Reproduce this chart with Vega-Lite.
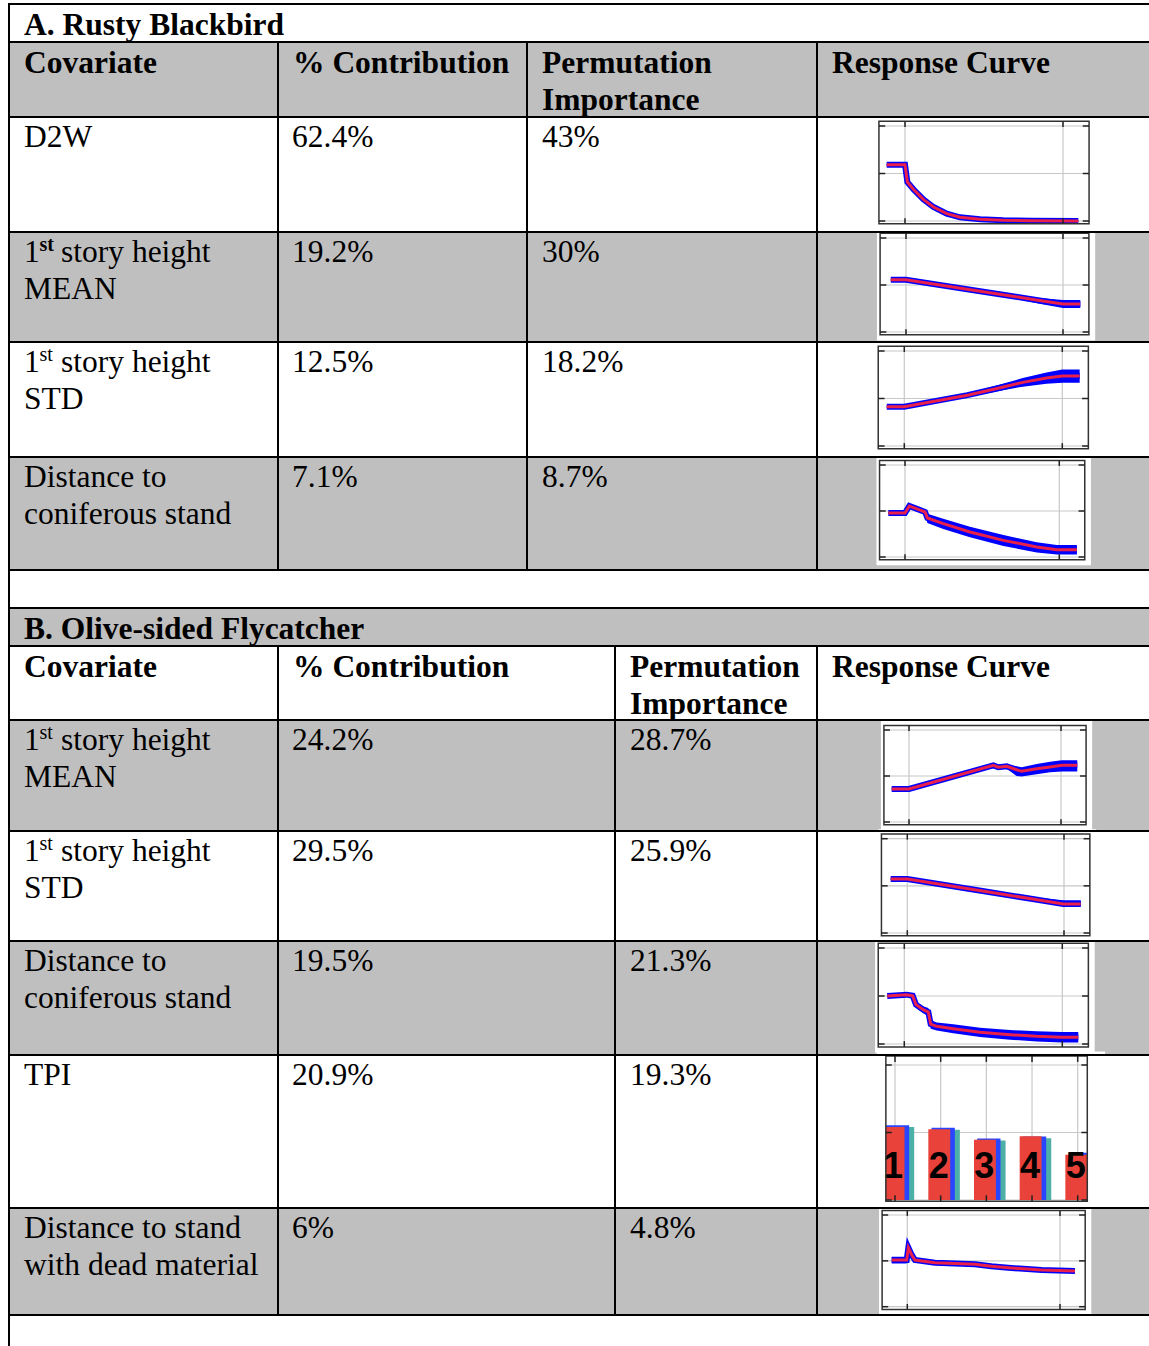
{
"$schema": "https://vega.github.io/schema/vega-lite/v6.json",
"width": 1149, "height": 1346, "padding": 0, "autosize": {"type": "none"},
"background": "white",
"config": {"view": {"stroke": null}},
"datasets": {
"fills": [
{"x0":9,"x1":1149,"y0":42,"y1":117},
{"x0":9,"x1":1149,"y0":232,"y1":342},
{"x0":9,"x1":1149,"y0":457,"y1":570},
{"x0":9,"x1":1149,"y0":608,"y1":646},
{"x0":9,"x1":1149,"y0":720,"y1":831},
{"x0":9,"x1":1149,"y0":941,"y1":1055},
{"x0":9,"x1":1149,"y0":1208,"y1":1315}
],
"borders": [
{"x0":9,"x1":1149,"y0":4,"y1":4},
{"x0":9,"x1":1149,"y0":42,"y1":42},
{"x0":9,"x1":1149,"y0":117,"y1":117},
{"x0":9,"x1":1149,"y0":232,"y1":232},
{"x0":9,"x1":1149,"y0":342,"y1":342},
{"x0":9,"x1":1149,"y0":457,"y1":457},
{"x0":9,"x1":1149,"y0":570,"y1":570},
{"x0":9,"x1":1149,"y0":608,"y1":608},
{"x0":9,"x1":1149,"y0":646,"y1":646},
{"x0":9,"x1":1149,"y0":720,"y1":720},
{"x0":9,"x1":1149,"y0":831,"y1":831},
{"x0":9,"x1":1149,"y0":941,"y1":941},
{"x0":9,"x1":1149,"y0":1055,"y1":1055},
{"x0":9,"x1":1149,"y0":1208,"y1":1208},
{"x0":9,"x1":1149,"y0":1315,"y1":1315},
{"x0":9,"x1":9,"y0":3,"y1":1346},
{"x0":278,"x1":278,"y0":42,"y1":570},
{"x0":527,"x1":527,"y0":42,"y1":570},
{"x0":817,"x1":817,"y0":42,"y1":570},
{"x0":278,"x1":278,"y0":646,"y1":1315},
{"x0":615,"x1":615,"y0":646,"y1":1315},
{"x0":817,"x1":817,"y0":646,"y1":1315}
],
"texts": [
{"k":"b","x":24,"y":35,"t":"A. Rusty Blackbird"},
{"k":"b","x":24,"y":73,"t":"Covariate"},
{"k":"b","x":293,"y":73,"t":"% Contribution"},
{"k":"b","x":542,"y":73,"t":"Permutation"},
{"k":"b","x":542,"y":110,"t":"Importance"},
{"k":"b","x":832,"y":73,"t":"Response Curve"},
{"k":"r","x":24,"y":147,"t":"D2W"},
{"k":"r","x":292,"y":147,"t":"62.4%"},
{"k":"r","x":542,"y":147,"t":"43%"},
{"k":"r","x":24,"y":262,"t":"1"},
{"k":"sb","x":39.5,"y":251,"t":"st"},
{"k":"r","x":61,"y":262,"t":"story height"},
{"k":"r","x":24,"y":299,"t":"MEAN"},
{"k":"r","x":292,"y":262,"t":"19.2%"},
{"k":"r","x":542,"y":262,"t":"30%"},
{"k":"r","x":24,"y":372,"t":"1"},
{"k":"s","x":39.5,"y":361,"t":"st"},
{"k":"r","x":61,"y":372,"t":"story height"},
{"k":"r","x":24,"y":409,"t":"STD"},
{"k":"r","x":292,"y":372,"t":"12.5%"},
{"k":"r","x":542,"y":372,"t":"18.2%"},
{"k":"r","x":24,"y":487,"t":"Distance to"},
{"k":"r","x":24,"y":524,"t":"coniferous stand"},
{"k":"r","x":292,"y":487,"t":"7.1%"},
{"k":"r","x":542,"y":487,"t":"8.7%"},
{"k":"b","x":24,"y":639,"t":"B. Olive-sided Flycatcher"},
{"k":"b","x":24,"y":677,"t":"Covariate"},
{"k":"b","x":293,"y":677,"t":"% Contribution"},
{"k":"b","x":630,"y":677,"t":"Permutation"},
{"k":"b","x":630,"y":714,"t":"Importance"},
{"k":"b","x":832,"y":677,"t":"Response Curve"},
{"k":"r","x":24,"y":750,"t":"1"},
{"k":"s","x":39.5,"y":739,"t":"st"},
{"k":"r","x":61,"y":750,"t":"story height"},
{"k":"r","x":24,"y":787,"t":"MEAN"},
{"k":"r","x":292,"y":750,"t":"24.2%"},
{"k":"r","x":630,"y":750,"t":"28.7%"},
{"k":"r","x":24,"y":861,"t":"1"},
{"k":"s","x":39.5,"y":850,"t":"st"},
{"k":"r","x":61,"y":861,"t":"story height"},
{"k":"r","x":24,"y":898,"t":"STD"},
{"k":"r","x":292,"y":861,"t":"29.5%"},
{"k":"r","x":630,"y":861,"t":"25.9%"},
{"k":"r","x":24,"y":971,"t":"Distance to"},
{"k":"r","x":24,"y":1008,"t":"coniferous stand"},
{"k":"r","x":292,"y":971,"t":"19.5%"},
{"k":"r","x":630,"y":971,"t":"21.3%"},
{"k":"r","x":24,"y":1085,"t":"TPI"},
{"k":"r","x":292,"y":1085,"t":"20.9%"},
{"k":"r","x":630,"y":1085,"t":"19.3%"},
{"k":"r","x":24,"y":1238,"t":"Distance to stand"},
{"k":"r","x":24,"y":1275,"t":"with dead material"},
{"k":"r","x":292,"y":1238,"t":"6%"},
{"k":"r","x":630,"y":1238,"t":"4.8%"}
],
"gridC": [
{"x0":0,"x1":0,"y0":-0.03,"y1":1.05},
{"x0":100,"x1":100,"y0":-0.03,"y1":1.05},
{"x0":-16.5,"x1":116.5,"y0":0,"y1":0},
{"x0":-16.5,"x1":116.5,"y0":0.5,"y1":0.5},
{"x0":-16.5,"x1":116.5,"y0":1,"y1":1}
],
"tickC": [
{"x0":-16.5,"x1":-12.5,"y0":0,"y1":0},
{"x0":-16.5,"x1":-12.5,"y0":0.5,"y1":0.5},
{"x0":-16.5,"x1":-12.5,"y0":1,"y1":1},
{"x0":112.5,"x1":116.5,"y0":0,"y1":0},
{"x0":112.5,"x1":116.5,"y0":0.5,"y1":0.5},
{"x0":112.5,"x1":116.5,"y0":1,"y1":1},
{"x0":0,"x1":0,"y0":1.05,"y1":0.99},
{"x0":100,"x1":100,"y0":1.05,"y1":0.99},
{"x0":0,"x1":0,"y0":-0.03,"y1":0.03},
{"x0":100,"x1":100,"y0":-0.03,"y1":0.03}
],
"gridT": [
{"x0":1,"x1":1,"y0":-0.01,"y1":1.067},
{"x0":2,"x1":2,"y0":-0.01,"y1":1.067},
{"x0":3,"x1":3,"y0":-0.01,"y1":1.067},
{"x0":4,"x1":4,"y0":-0.01,"y1":1.067},
{"x0":5,"x1":5,"y0":-0.01,"y1":1.067},
{"x0":0.8,"x1":5.21,"y0":0,"y1":0},
{"x0":0.8,"x1":5.21,"y0":0.5,"y1":0.5},
{"x0":0.8,"x1":5.21,"y0":1,"y1":1}
],
"tickT": [
{"x0":0.8,"x1":0.93,"y0":0,"y1":0},
{"x0":0.8,"x1":0.93,"y0":0.5,"y1":0.5},
{"x0":0.8,"x1":0.93,"y0":1,"y1":1},
{"x0":5.08,"x1":5.21,"y0":0,"y1":0},
{"x0":5.08,"x1":5.21,"y0":0.5,"y1":0.5},
{"x0":5.08,"x1":5.21,"y0":1,"y1":1},
{"x0":1,"x1":1,"y0":1.067,"y1":1.023},
{"x0":2,"x1":2,"y0":1.067,"y1":1.023},
{"x0":3,"x1":3,"y0":1.067,"y1":1.023},
{"x0":4,"x1":4,"y0":1.067,"y1":1.023},
{"x0":5,"x1":5,"y0":1.067,"y1":1.023},
{"x0":1,"x1":1,"y0":-0.01,"y1":0.035},
{"x0":2,"x1":2,"y0":-0.01,"y1":0.035},
{"x0":3,"x1":3,"y0":-0.01,"y1":0.035},
{"x0":4,"x1":4,"y0":-0.01,"y1":0.035},
{"x0":5,"x1":5,"y0":-0.01,"y1":0.035}
],
"tpi": [
{"cat":1,"red":0.54,"blue":0.553,"teal":0.54},
{"cat":2,"red":0.524,"blue":0.536,"teal":0.52},
{"cat":3,"red":0.447,"blue":0.455,"teal":0.44},
{"cat":4,"red":0.472,"blue":0.47,"teal":0.457},
{"cat":5,"red":0.335,"blue":0.35,"teal":null}
],
"curves": [
{"chart":"c1","x":-11.6,"y":0.593,"lo":0.58,"hi":0.605},
{"chart":"c1","x":0,"y":0.593,"lo":0.58,"hi":0.605},
{"chart":"c1","x":1.5,"y":0.41,"lo":0.385,"hi":0.435},
{"chart":"c1","x":5.3,"y":0.334,"lo":0.305,"hi":0.36},
{"chart":"c1","x":11.6,"y":0.228,"lo":0.2,"hi":0.255},
{"chart":"c1","x":18,"y":0.147,"lo":0.12,"hi":0.175},
{"chart":"c1","x":26.4,"y":0.077,"lo":0.055,"hi":0.1},
{"chart":"c1","x":34.8,"y":0.039,"lo":0.025,"hi":0.055},
{"chart":"c1","x":47.5,"y":0.018,"lo":0.008,"hi":0.028},
{"chart":"c1","x":62.2,"y":0.007,"lo":0.0,"hi":0.014},
{"chart":"c1","x":80,"y":0.002,"lo":-0.004,"hi":0.008},
{"chart":"c1","x":109.7,"y":0.0,"lo":-0.005,"hi":0.005},
{"chart":"c2","x":-9.7,"y":0.556,"lo":0.546,"hi":0.566},
{"chart":"c2","x":0,"y":0.556,"lo":0.546,"hi":0.566},
{"chart":"c2","x":40,"y":0.453,"lo":0.441,"hi":0.465},
{"chart":"c2","x":70,"y":0.375,"lo":0.355,"hi":0.392},
{"chart":"c2","x":85,"y":0.336,"lo":0.3,"hi":0.362},
{"chart":"c2","x":100,"y":0.298,"lo":0.255,"hi":0.34},
{"chart":"c2","x":111,"y":0.298,"lo":0.255,"hi":0.34},
{"chart":"c3","x":-11.1,"y":0.414,"lo":0.4,"hi":0.428},
{"chart":"c3","x":0,"y":0.414,"lo":0.4,"hi":0.428},
{"chart":"c3","x":40,"y":0.535,"lo":0.515,"hi":0.555},
{"chart":"c3","x":60,"y":0.61,"lo":0.58,"hi":0.645},
{"chart":"c3","x":75,"y":0.67,"lo":0.625,"hi":0.715},
{"chart":"c3","x":90,"y":0.715,"lo":0.655,"hi":0.775},
{"chart":"c3","x":100,"y":0.737,"lo":0.665,"hi":0.805},
{"chart":"c3","x":111,"y":0.737,"lo":0.665,"hi":0.805},
{"chart":"c4","x":-10.8,"y":0.478,"lo":0.465,"hi":0.49},
{"chart":"c4","x":0,"y":0.478,"lo":0.465,"hi":0.49},
{"chart":"c4","x":2.8,"y":0.554,"lo":0.54,"hi":0.565},
{"chart":"c4","x":8.6,"y":0.518,"lo":0.5,"hi":0.535},
{"chart":"c4","x":13,"y":0.489,"lo":0.46,"hi":0.515},
{"chart":"c4","x":14.5,"y":0.424,"lo":0.37,"hi":0.47},
{"chart":"c4","x":24.8,"y":0.362,"lo":0.305,"hi":0.415},
{"chart":"c4","x":42.1,"y":0.272,"lo":0.215,"hi":0.33},
{"chart":"c4","x":63.8,"y":0.181,"lo":0.12,"hi":0.24},
{"chart":"c4","x":85.4,"y":0.109,"lo":0.05,"hi":0.16},
{"chart":"c4","x":98.4,"y":0.079,"lo":0.028,"hi":0.13},
{"chart":"c4","x":111.4,"y":0.079,"lo":0.028,"hi":0.13},
{"chart":"c5","x":-11.4,"y":0.359,"lo":0.35,"hi":0.37},
{"chart":"c5","x":0,"y":0.359,"lo":0.35,"hi":0.37},
{"chart":"c5","x":55.5,"y":0.616,"lo":0.605,"hi":0.627},
{"chart":"c5","x":58.8,"y":0.595,"lo":0.57,"hi":0.615},
{"chart":"c5","x":64.3,"y":0.605,"lo":0.58,"hi":0.625},
{"chart":"c5","x":70.8,"y":0.568,"lo":0.5,"hi":0.605},
{"chart":"c5","x":74.1,"y":0.551,"lo":0.495,"hi":0.595},
{"chart":"c5","x":84,"y":0.579,"lo":0.52,"hi":0.63},
{"chart":"c5","x":92.8,"y":0.598,"lo":0.54,"hi":0.655},
{"chart":"c5","x":100.5,"y":0.616,"lo":0.55,"hi":0.67},
{"chart":"c5","x":110.7,"y":0.616,"lo":0.55,"hi":0.67},
{"chart":"c6","x":-10.6,"y":0.573,"lo":0.563,"hi":0.583},
{"chart":"c6","x":0,"y":0.573,"lo":0.563,"hi":0.583},
{"chart":"c6","x":50,"y":0.44,"lo":0.43,"hi":0.452},
{"chart":"c6","x":80,"y":0.36,"lo":0.343,"hi":0.378},
{"chart":"c6","x":99.6,"y":0.308,"lo":0.283,"hi":0.347},
{"chart":"c6","x":110.7,"y":0.308,"lo":0.283,"hi":0.347},
{"chart":"c7","x":-10.8,"y":0.5,"lo":0.49,"hi":0.51},
{"chart":"c7","x":1.5,"y":0.514,"lo":0.5,"hi":0.525},
{"chart":"c7","x":5.3,"y":0.503,"lo":0.49,"hi":0.515},
{"chart":"c7","x":7.4,"y":0.41,"lo":0.38,"hi":0.44},
{"chart":"c7","x":12,"y":0.357,"lo":0.32,"hi":0.39},
{"chart":"c7","x":15.2,"y":0.333,"lo":0.29,"hi":0.375},
{"chart":"c7","x":16.7,"y":0.208,"lo":0.16,"hi":0.25},
{"chart":"c7","x":20.5,"y":0.184,"lo":0.14,"hi":0.225},
{"chart":"c7","x":31,"y":0.16,"lo":0.113,"hi":0.205},
{"chart":"c7","x":47.9,"y":0.122,"lo":0.073,"hi":0.17},
{"chart":"c7","x":66.9,"y":0.097,"lo":0.045,"hi":0.145},
{"chart":"c7","x":83.8,"y":0.08,"lo":0.025,"hi":0.132},
{"chart":"c7","x":99.6,"y":0.07,"lo":0.015,"hi":0.125},
{"chart":"c7","x":110.1,"y":0.07,"lo":0.015,"hi":0.125},
{"chart":"c9","x":-10.2,"y":0.509,"lo":0.47,"hi":0.545},
{"chart":"c9","x":-0.4,"y":0.509,"lo":0.47,"hi":0.545},
{"chart":"c9","x":0.7,"y":0.644,"lo":0.63,"hi":0.66},
{"chart":"c9","x":2.9,"y":0.564,"lo":0.55,"hi":0.58},
{"chart":"c9","x":5,"y":0.509,"lo":0.495,"hi":0.52},
{"chart":"c9","x":18.1,"y":0.48,"lo":0.47,"hi":0.49},
{"chart":"c9","x":44.3,"y":0.462,"lo":0.45,"hi":0.475},
{"chart":"c9","x":55,"y":0.44,"lo":0.42,"hi":0.455},
{"chart":"c9","x":66.1,"y":0.425,"lo":0.405,"hi":0.44},
{"chart":"c9","x":88,"y":0.4,"lo":0.38,"hi":0.415},
{"chart":"c9","x":109.8,"y":0.389,"lo":0.37,"hi":0.405}
]
},
"layer": [
{"data":{"name":"fills"},"mark":{"type":"rect","color":"#bfbfbf"},
 "encoding":{"x":{"field":"x0","type":"quantitative","scale":{"domain":[0,1149],"range":[0,1149],"nice":false,"zero":false},"axis":null},"x2":{"field":"x1"},
 "y":{"field":"y0","type":"quantitative","scale":{"domain":[0,1346],"range":[0,1346],"nice":false,"zero":false},"axis":null},"y2":{"field":"y1"}}},

{"layer":[
 {"data":{"values":[{}]},"mark":{"type":"rect","fill":"white"},"encoding":{"x":{"datum":-18.5,"type":"quantitative","scale":{"domain":[0,100],"range":[905,1063],"nice":false,"zero":false},"axis":null},"x2":{"datum":120.5},"y":{"datum":-0.09,"type":"quantitative","scale":{"domain":[0,1],"range":[221,126],"nice":false,"zero":false},"axis":null},"y2":{"datum":1.1}}},
 {"data":{"name":"gridC"},"mark":{"type":"rule","color":"#c8c8c8","strokeWidth":1.2},"encoding":{"x":{"field":"x0","type":"quantitative"},"x2":{"field":"x1"},"y":{"field":"y0","type":"quantitative"},"y2":{"field":"y1"}}},
 {"data":{"name":"curves"},"transform":[{"filter":"datum.chart=='c1'"}],"mark":{"type":"area","color":"#0000ff"},"encoding":{"x":{"field":"x","type":"quantitative"},"y":{"field":"lo","type":"quantitative"},"y2":{"field":"hi"}}},
 {"data":{"name":"curves"},"transform":[{"filter":"datum.chart=='c1'"}],"mark":{"type":"line","color":"#0000ff","strokeWidth":6},"encoding":{"x":{"field":"x","type":"quantitative"},"y":{"field":"y","type":"quantitative"}}},
 {"data":{"name":"curves"},"transform":[{"filter":"datum.chart=='c1'"}],"mark":{"type":"line","color":"#e8204a","strokeWidth":3},"encoding":{"x":{"field":"x","type":"quantitative"},"y":{"field":"y","type":"quantitative"}}},
 {"data":{"values":[{}]},"mark":{"type":"rect","fill":"transparent","stroke":"#333333","strokeWidth":1.5},"encoding":{"x":{"datum":-16.5,"type":"quantitative"},"x2":{"datum":116.5},"y":{"datum":-0.03,"type":"quantitative"},"y2":{"datum":1.05}}},
 {"data":{"name":"tickC"},"mark":{"type":"rule","color":"#222222","strokeWidth":1.5},"encoding":{"x":{"field":"x0","type":"quantitative"},"x2":{"field":"x1"},"y":{"field":"y0","type":"quantitative"},"y2":{"field":"y1"}}}
]},

{"layer":[
 {"data":{"values":[{}]},"mark":{"type":"rect","fill":"white"},"encoding":{"x":{"datum":-18.5,"type":"quantitative","scale":{"domain":[0,100],"range":[906,1063],"nice":false,"zero":false},"axis":null},"x2":{"datum":120.5},"y":{"datum":-0.09,"type":"quantitative","scale":{"domain":[0,1],"range":[332,238],"nice":false,"zero":false},"axis":null},"y2":{"datum":1.1}}},
 {"data":{"name":"gridC"},"mark":{"type":"rule","color":"#c8c8c8","strokeWidth":1.2},"encoding":{"x":{"field":"x0","type":"quantitative"},"x2":{"field":"x1"},"y":{"field":"y0","type":"quantitative"},"y2":{"field":"y1"}}},
 {"data":{"name":"curves"},"transform":[{"filter":"datum.chart=='c2'"}],"mark":{"type":"area","color":"#0000ff"},"encoding":{"x":{"field":"x","type":"quantitative"},"y":{"field":"lo","type":"quantitative"},"y2":{"field":"hi"}}},
 {"data":{"name":"curves"},"transform":[{"filter":"datum.chart=='c2'"}],"mark":{"type":"line","color":"#0000ff","strokeWidth":6},"encoding":{"x":{"field":"x","type":"quantitative"},"y":{"field":"y","type":"quantitative"}}},
 {"data":{"name":"curves"},"transform":[{"filter":"datum.chart=='c2'"}],"mark":{"type":"line","color":"#e8204a","strokeWidth":3},"encoding":{"x":{"field":"x","type":"quantitative"},"y":{"field":"y","type":"quantitative"}}},
 {"data":{"values":[{}]},"mark":{"type":"rect","fill":"transparent","stroke":"#333333","strokeWidth":1.5},"encoding":{"x":{"datum":-16.5,"type":"quantitative"},"x2":{"datum":116.5},"y":{"datum":-0.03,"type":"quantitative"},"y2":{"datum":1.05}}},
 {"data":{"name":"tickC"},"mark":{"type":"rule","color":"#222222","strokeWidth":1.5},"encoding":{"x":{"field":"x0","type":"quantitative"},"x2":{"field":"x1"},"y":{"field":"y0","type":"quantitative"},"y2":{"field":"y1"}}}
]},

{"layer":[
 {"data":{"values":[{}]},"mark":{"type":"rect","fill":"white"},"encoding":{"x":{"datum":-18.5,"type":"quantitative","scale":{"domain":[0,100],"range":[904.3,1062.3],"nice":false,"zero":false},"axis":null},"x2":{"datum":120.5},"y":{"datum":-0.09,"type":"quantitative","scale":{"domain":[0,1],"range":[446,351],"nice":false,"zero":false},"axis":null},"y2":{"datum":1.1}}},
 {"data":{"name":"gridC"},"mark":{"type":"rule","color":"#c8c8c8","strokeWidth":1.2},"encoding":{"x":{"field":"x0","type":"quantitative"},"x2":{"field":"x1"},"y":{"field":"y0","type":"quantitative"},"y2":{"field":"y1"}}},
 {"data":{"name":"curves"},"transform":[{"filter":"datum.chart=='c3'"}],"mark":{"type":"area","color":"#0000ff"},"encoding":{"x":{"field":"x","type":"quantitative"},"y":{"field":"lo","type":"quantitative"},"y2":{"field":"hi"}}},
 {"data":{"name":"curves"},"transform":[{"filter":"datum.chart=='c3'"}],"mark":{"type":"line","color":"#0000ff","strokeWidth":6},"encoding":{"x":{"field":"x","type":"quantitative"},"y":{"field":"y","type":"quantitative"}}},
 {"data":{"name":"curves"},"transform":[{"filter":"datum.chart=='c3'"}],"mark":{"type":"line","color":"#e8204a","strokeWidth":3},"encoding":{"x":{"field":"x","type":"quantitative"},"y":{"field":"y","type":"quantitative"}}},
 {"data":{"values":[{}]},"mark":{"type":"rect","fill":"transparent","stroke":"#333333","strokeWidth":1.5},"encoding":{"x":{"datum":-16.5,"type":"quantitative"},"x2":{"datum":116.5},"y":{"datum":-0.03,"type":"quantitative"},"y2":{"datum":1.05}}},
 {"data":{"name":"tickC"},"mark":{"type":"rule","color":"#222222","strokeWidth":1.5},"encoding":{"x":{"field":"x0","type":"quantitative"},"x2":{"field":"x1"},"y":{"field":"y0","type":"quantitative"},"y2":{"field":"y1"}}}
]},

{"layer":[
 {"data":{"values":[{}]},"mark":{"type":"rect","fill":"white"},"encoding":{"x":{"datum":-18.5,"type":"quantitative","scale":{"domain":[0,100],"range":[905,1059.3],"nice":false,"zero":false},"axis":null},"x2":{"datum":120.5},"y":{"datum":-0.09,"type":"quantitative","scale":{"domain":[0,1],"range":[557,465],"nice":false,"zero":false},"axis":null},"y2":{"datum":1.1}}},
 {"data":{"name":"gridC"},"mark":{"type":"rule","color":"#c8c8c8","strokeWidth":1.2},"encoding":{"x":{"field":"x0","type":"quantitative"},"x2":{"field":"x1"},"y":{"field":"y0","type":"quantitative"},"y2":{"field":"y1"}}},
 {"data":{"name":"curves"},"transform":[{"filter":"datum.chart=='c4'"}],"mark":{"type":"area","color":"#0000ff"},"encoding":{"x":{"field":"x","type":"quantitative"},"y":{"field":"lo","type":"quantitative"},"y2":{"field":"hi"}}},
 {"data":{"name":"curves"},"transform":[{"filter":"datum.chart=='c4'"}],"mark":{"type":"line","color":"#0000ff","strokeWidth":6},"encoding":{"x":{"field":"x","type":"quantitative"},"y":{"field":"y","type":"quantitative"}}},
 {"data":{"name":"curves"},"transform":[{"filter":"datum.chart=='c4'"}],"mark":{"type":"line","color":"#e8204a","strokeWidth":3},"encoding":{"x":{"field":"x","type":"quantitative"},"y":{"field":"y","type":"quantitative"}}},
 {"data":{"values":[{}]},"mark":{"type":"rect","fill":"transparent","stroke":"#333333","strokeWidth":1.5},"encoding":{"x":{"datum":-16.5,"type":"quantitative"},"x2":{"datum":116.5},"y":{"datum":-0.03,"type":"quantitative"},"y2":{"datum":1.05}}},
 {"data":{"name":"tickC"},"mark":{"type":"rule","color":"#222222","strokeWidth":1.5},"encoding":{"x":{"field":"x0","type":"quantitative"},"x2":{"field":"x1"},"y":{"field":"y0","type":"quantitative"},"y2":{"field":"y1"}}}
]},

{"layer":[
 {"data":{"values":[{}]},"mark":{"type":"rect","fill":"white"},"encoding":{"x":{"datum":-18.5,"type":"quantitative","scale":{"domain":[0,100],"range":[909,1061],"nice":false,"zero":false},"axis":null},"x2":{"datum":120.5},"y":{"datum":-0.09,"type":"quantitative","scale":{"domain":[0,1],"range":[822,730],"nice":false,"zero":false},"axis":null},"y2":{"datum":1.1}}},
 {"data":{"name":"gridC"},"mark":{"type":"rule","color":"#c8c8c8","strokeWidth":1.2},"encoding":{"x":{"field":"x0","type":"quantitative"},"x2":{"field":"x1"},"y":{"field":"y0","type":"quantitative"},"y2":{"field":"y1"}}},
 {"data":{"name":"curves"},"transform":[{"filter":"datum.chart=='c5'"}],"mark":{"type":"area","color":"#0000ff"},"encoding":{"x":{"field":"x","type":"quantitative"},"y":{"field":"lo","type":"quantitative"},"y2":{"field":"hi"}}},
 {"data":{"name":"curves"},"transform":[{"filter":"datum.chart=='c5'"}],"mark":{"type":"line","color":"#0000ff","strokeWidth":6},"encoding":{"x":{"field":"x","type":"quantitative"},"y":{"field":"y","type":"quantitative"}}},
 {"data":{"name":"curves"},"transform":[{"filter":"datum.chart=='c5'"}],"mark":{"type":"line","color":"#e8204a","strokeWidth":3},"encoding":{"x":{"field":"x","type":"quantitative"},"y":{"field":"y","type":"quantitative"}}},
 {"data":{"values":[{}]},"mark":{"type":"rect","fill":"transparent","stroke":"#333333","strokeWidth":1.5},"encoding":{"x":{"datum":-16.5,"type":"quantitative"},"x2":{"datum":116.5},"y":{"datum":-0.03,"type":"quantitative"},"y2":{"datum":1.05}}},
 {"data":{"name":"tickC"},"mark":{"type":"rule","color":"#222222","strokeWidth":1.5},"encoding":{"x":{"field":"x0","type":"quantitative"},"x2":{"field":"x1"},"y":{"field":"y0","type":"quantitative"},"y2":{"field":"y1"}}}
]},

{"layer":[
 {"data":{"values":[{}]},"mark":{"type":"rect","fill":"white"},"encoding":{"x":{"datum":-18.5,"type":"quantitative","scale":{"domain":[0,100],"range":[907.3,1064],"nice":false,"zero":false},"axis":null},"x2":{"datum":120.5},"y":{"datum":-0.09,"type":"quantitative","scale":{"domain":[0,1],"range":[933,838.7],"nice":false,"zero":false},"axis":null},"y2":{"datum":1.1}}},
 {"data":{"name":"gridC"},"mark":{"type":"rule","color":"#c8c8c8","strokeWidth":1.2},"encoding":{"x":{"field":"x0","type":"quantitative"},"x2":{"field":"x1"},"y":{"field":"y0","type":"quantitative"},"y2":{"field":"y1"}}},
 {"data":{"name":"curves"},"transform":[{"filter":"datum.chart=='c6'"}],"mark":{"type":"area","color":"#0000ff"},"encoding":{"x":{"field":"x","type":"quantitative"},"y":{"field":"lo","type":"quantitative"},"y2":{"field":"hi"}}},
 {"data":{"name":"curves"},"transform":[{"filter":"datum.chart=='c6'"}],"mark":{"type":"line","color":"#0000ff","strokeWidth":6},"encoding":{"x":{"field":"x","type":"quantitative"},"y":{"field":"y","type":"quantitative"}}},
 {"data":{"name":"curves"},"transform":[{"filter":"datum.chart=='c6'"}],"mark":{"type":"line","color":"#e8204a","strokeWidth":3},"encoding":{"x":{"field":"x","type":"quantitative"},"y":{"field":"y","type":"quantitative"}}},
 {"data":{"values":[{}]},"mark":{"type":"rect","fill":"transparent","stroke":"#333333","strokeWidth":1.5},"encoding":{"x":{"datum":-16.5,"type":"quantitative"},"x2":{"datum":116.5},"y":{"datum":-0.03,"type":"quantitative"},"y2":{"datum":1.05}}},
 {"data":{"name":"tickC"},"mark":{"type":"rule","color":"#222222","strokeWidth":1.5},"encoding":{"x":{"field":"x0","type":"quantitative"},"x2":{"field":"x1"},"y":{"field":"y0","type":"quantitative"},"y2":{"field":"y1"}}}
]},

{"layer":[
 {"data":{"values":[{}]},"mark":{"type":"rect","fill":"white"},"encoding":{"x":{"datum":-18.5,"type":"quantitative","scale":{"domain":[0,100],"range":[904.3,1062.3],"nice":false,"zero":false},"axis":null},"x2":{"datum":120.5},"y":{"datum":-0.09,"type":"quantitative","scale":{"domain":[0,1],"range":[1044,948],"nice":false,"zero":false},"axis":null},"y2":{"datum":1.1}}},
 {"data":{"name":"gridC"},"mark":{"type":"rule","color":"#c8c8c8","strokeWidth":1.2},"encoding":{"x":{"field":"x0","type":"quantitative"},"x2":{"field":"x1"},"y":{"field":"y0","type":"quantitative"},"y2":{"field":"y1"}}},
 {"data":{"name":"curves"},"transform":[{"filter":"datum.chart=='c7'"}],"mark":{"type":"area","color":"#0000ff"},"encoding":{"x":{"field":"x","type":"quantitative"},"y":{"field":"lo","type":"quantitative"},"y2":{"field":"hi"}}},
 {"data":{"name":"curves"},"transform":[{"filter":"datum.chart=='c7'"}],"mark":{"type":"line","color":"#0000ff","strokeWidth":6},"encoding":{"x":{"field":"x","type":"quantitative"},"y":{"field":"y","type":"quantitative"}}},
 {"data":{"name":"curves"},"transform":[{"filter":"datum.chart=='c7'"}],"mark":{"type":"line","color":"#e8204a","strokeWidth":3},"encoding":{"x":{"field":"x","type":"quantitative"},"y":{"field":"y","type":"quantitative"}}},
 {"data":{"values":[{}]},"mark":{"type":"rect","fill":"transparent","stroke":"#333333","strokeWidth":1.5},"encoding":{"x":{"datum":-16.5,"type":"quantitative"},"x2":{"datum":116.5},"y":{"datum":-0.03,"type":"quantitative"},"y2":{"datum":1.05}}},
 {"data":{"name":"tickC"},"mark":{"type":"rule","color":"#222222","strokeWidth":1.5},"encoding":{"x":{"field":"x0","type":"quantitative"},"x2":{"field":"x1"},"y":{"field":"y0","type":"quantitative"},"y2":{"field":"y1"}}}
]},

{"layer":[
 {"data":{"values":[{}]},"mark":{"type":"rect","fill":"white"},"encoding":{"x":{"datum":0.75,"type":"quantitative","scale":{"domain":[1,5],"range":[895,1077.7],"nice":false,"zero":false,"padding":0},"axis":null},"x2":{"datum":5.3},"y":{"datum":-0.04,"type":"quantitative","scale":{"domain":[0,1],"range":[1200,1065],"nice":false,"zero":false,"padding":0},"axis":null},"y2":{"datum":1.1}}},
 {"data":{"name":"gridT"},"mark":{"type":"rule","color":"#c8c8c8","strokeWidth":1.2},"encoding":{"x":{"field":"x0","type":"quantitative"},"x2":{"field":"x1"},"y":{"field":"y0","type":"quantitative"},"y2":{"field":"y1"}}},
 {"data":{"name":"tpi"},"transform":[{"filter":"isValid(datum.teal)"}],"mark":{"type":"bar","color":"#4cb0a8","width":23.8,"xOffset":7.3},"encoding":{"x":{"field":"cat","type":"quantitative"},"y":{"field":"teal","type":"quantitative"},"y2":{"datum":0}}},
 {"data":{"name":"tpi"},"mark":{"type":"bar","color":"#2a45ff","width":23.3,"xOffset":2.5},"encoding":{"x":{"field":"cat","type":"quantitative"},"y":{"field":"blue","type":"quantitative"},"y2":{"datum":0}}},
 {"data":{"name":"tpi"},"mark":{"type":"bar","color":"#e8423a","width":21.9,"xOffset":-1.4},"encoding":{"x":{"field":"cat","type":"quantitative"},"y":{"field":"red","type":"quantitative"},"y2":{"datum":0}}},
 {"data":{"values":[{}]},"mark":{"type":"rect","fill":"white"},"encoding":{"x":{"datum":0.6,"type":"quantitative"},"x2":{"datum":0.795},"y":{"datum":-0.05,"type":"quantitative"},"y2":{"datum":1.1}}},
 {"data":{"values":[{}]},"mark":{"type":"rect","fill":"white"},"encoding":{"x":{"datum":5.215,"type":"quantitative"},"x2":{"datum":5.6},"y":{"datum":-0.05,"type":"quantitative"},"y2":{"datum":1.1}}},
 {"data":{"name":"tpi"},"mark":{"type":"text","font":"Liberation Sans","fontWeight":"bold","fontSize":36,"align":"center","baseline":"alphabetic","dx":-2,"color":"black"},"encoding":{"x":{"field":"cat","type":"quantitative"},"y":{"datum":0.165,"type":"quantitative"},"text":{"field":"cat","type":"nominal"}}},
 {"data":{"values":[{}]},"mark":{"type":"rect","fill":"transparent","stroke":"#333333","strokeWidth":1.5},"encoding":{"x":{"datum":0.8,"type":"quantitative"},"x2":{"datum":5.21},"y":{"datum":-0.01,"type":"quantitative"},"y2":{"datum":1.067}}},
 {"data":{"name":"tickT"},"mark":{"type":"rule","color":"#222222","strokeWidth":1.5},"encoding":{"x":{"field":"x0","type":"quantitative"},"x2":{"field":"x1"},"y":{"field":"y0","type":"quantitative"},"y2":{"field":"y1"}}}
]},

{"layer":[
 {"data":{"values":[{}]},"mark":{"type":"rect","fill":"white"},"encoding":{"x":{"datum":-18.5,"type":"quantitative","scale":{"domain":[0,100],"range":[907.3,1060],"nice":false,"zero":false},"axis":null},"x2":{"datum":120.5},"y":{"datum":-0.09,"type":"quantitative","scale":{"domain":[0,1],"range":[1306.7,1215],"nice":false,"zero":false},"axis":null},"y2":{"datum":1.1}}},
 {"data":{"name":"gridC"},"mark":{"type":"rule","color":"#c8c8c8","strokeWidth":1.2},"encoding":{"x":{"field":"x0","type":"quantitative"},"x2":{"field":"x1"},"y":{"field":"y0","type":"quantitative"},"y2":{"field":"y1"}}},
 {"data":{"name":"curves"},"transform":[{"filter":"datum.chart=='c9'"}],"mark":{"type":"area","color":"#0000ff"},"encoding":{"x":{"field":"x","type":"quantitative"},"y":{"field":"lo","type":"quantitative"},"y2":{"field":"hi"}}},
 {"data":{"name":"curves"},"transform":[{"filter":"datum.chart=='c9'"}],"mark":{"type":"line","color":"#0000ff","strokeWidth":6},"encoding":{"x":{"field":"x","type":"quantitative"},"y":{"field":"y","type":"quantitative"}}},
 {"data":{"name":"curves"},"transform":[{"filter":"datum.chart=='c9'"}],"mark":{"type":"line","color":"#e8204a","strokeWidth":3},"encoding":{"x":{"field":"x","type":"quantitative"},"y":{"field":"y","type":"quantitative"}}},
 {"data":{"values":[{}]},"mark":{"type":"rect","fill":"transparent","stroke":"#333333","strokeWidth":1.5},"encoding":{"x":{"datum":-16.5,"type":"quantitative"},"x2":{"datum":116.5},"y":{"datum":-0.03,"type":"quantitative"},"y2":{"datum":1.05}}},
 {"data":{"name":"tickC"},"mark":{"type":"rule","color":"#222222","strokeWidth":1.5},"encoding":{"x":{"field":"x0","type":"quantitative"},"x2":{"field":"x1"},"y":{"field":"y0","type":"quantitative"},"y2":{"field":"y1"}}}
]},

{"layer":[
 {"data":{"name":"borders"},"mark":{"type":"rule","color":"black","strokeWidth":2},
  "encoding":{"x":{"field":"x0","type":"quantitative","scale":{"domain":[0,1149],"range":[0,1149],"nice":false,"zero":false},"axis":null},"x2":{"field":"x1"},
  "y":{"field":"y0","type":"quantitative","scale":{"domain":[0,1346],"range":[0,1346],"nice":false,"zero":false},"axis":null},"y2":{"field":"y1"}}},
 {"data":{"name":"texts"},"transform":[{"filter":"datum.k=='b'"}],"mark":{"type":"text","font":"Liberation Serif","fontSize":31.5,"fontWeight":"bold","align":"left","baseline":"alphabetic","color":"black"},"encoding":{"x":{"field":"x","type":"quantitative"},"y":{"field":"y","type":"quantitative"},"text":{"field":"t"}}},
 {"data":{"name":"texts"},"transform":[{"filter":"datum.k=='r'"}],"mark":{"type":"text","font":"Liberation Serif","fontSize":31.5,"align":"left","baseline":"alphabetic","color":"black"},"encoding":{"x":{"field":"x","type":"quantitative"},"y":{"field":"y","type":"quantitative"},"text":{"field":"t"}}},
 {"data":{"name":"texts"},"transform":[{"filter":"datum.k=='s'"}],"mark":{"type":"text","font":"Liberation Serif","fontSize":20,"align":"left","baseline":"alphabetic","color":"black"},"encoding":{"x":{"field":"x","type":"quantitative"},"y":{"field":"y","type":"quantitative"},"text":{"field":"t"}}},
 {"data":{"name":"texts"},"transform":[{"filter":"datum.k=='sb'"}],"mark":{"type":"text","font":"Liberation Serif","fontSize":20,"fontWeight":"bold","align":"left","baseline":"alphabetic","color":"black"},"encoding":{"x":{"field":"x","type":"quantitative"},"y":{"field":"y","type":"quantitative"},"text":{"field":"t"}}}
]}
],
"resolve": {"scale": {"x": "independent", "y": "independent"}}
}
